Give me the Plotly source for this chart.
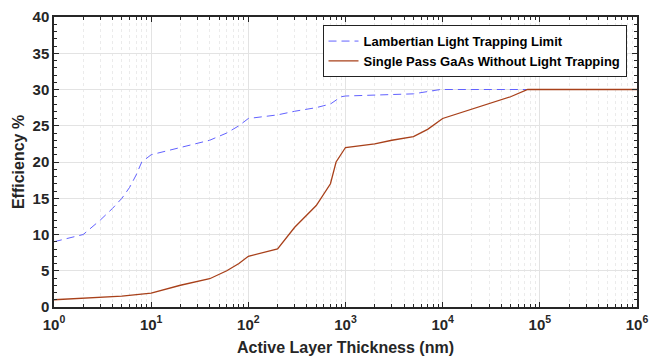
import plotly.graph_objects as go

# Data
lamb_x = [1, 2, 3, 4, 5, 6, 7, 8, 10, 20, 40, 60, 80, 100, 200, 300, 500, 700, 900,
          1000, 2000, 5000, 9500, 1e5, 1e6]
lamb_y = [9, 10, 12, 13.6, 15, 16.5, 18.2, 20, 21, 22, 23, 24, 25, 26, 26.5, 27, 27.5, 28, 29,
          29.1, 29.2, 29.4, 30, 30, 30]

gaas_x = [1, 2, 5, 10, 20, 40, 60, 80, 100, 200, 300, 500, 700, 800, 1000, 2000, 3000, 5000,
          7000, 10000, 50000, 75000, 1e5, 1e6]
gaas_y = [1, 1.2, 1.5, 1.9, 3, 3.9, 5, 6, 7, 8, 11, 14, 17, 20, 22, 22.5, 23, 23.5,
          24.5, 26, 29, 30, 30, 30]

x_tickvals = [1, 10, 100, 1000, 1e4, 1e5, 1e6]
x_ticktext = ["10<sup>0</sup>", "10<sup>1</sup>", "10<sup>2</sup>", "10<sup>3</sup>",
              "10<sup>4</sup>", "10<sup>5</sup>", "10<sup>6</sup>"]

font_family = "Arial, Liberation Sans, sans-serif"
text_col = "#262626"

fig = go.Figure()
fig.add_trace(go.Scatter(
    x=lamb_x, y=lamb_y, mode="lines", name="Lambertian Light Trapping Limit",
    line=dict(color="#6262FF", width=1, dash="8px,5px")))
fig.add_trace(go.Scatter(
    x=gaas_x, y=gaas_y, mode="lines", name="Single Pass GaAs Without Light Trapping",
    line=dict(color="#A8401A", width=1.3)))

fig.update_layout(
    width=650, height=358,
    margin=dict(l=54, r=13, t=17, b=51),
    paper_bgcolor="white", plot_bgcolor="white",
    font=dict(family=font_family, color=text_col),
    showlegend=True,
    legend=dict(x=0.982, y=0.972, xanchor="right", yanchor="top",
                bgcolor="white", bordercolor="#222222", borderwidth=1,
                font=dict(size=13, weight="bold", color="black"),
                tracegroupgap=0, itemwidth=30),
)

fig.update_xaxes(
    type="log", range=[0, 6], automargin=False,
    tickvals=x_tickvals, ticktext=x_ticktext,
    tickfont=dict(size=15, weight="bold", color=text_col),
    ticks="inside", ticklen=5, tickcolor="#262626",
    ticklabelstandoff=3,
    showline=True, linecolor="#262626", linewidth=1.5, mirror="allticks",
    showgrid=True, gridcolor="#E3E3E3", gridwidth=1,
    zeroline=False,
    minor=dict(dtick="D1", ticks="inside", ticklen=3, tickcolor="#262626",
               showgrid=True, gridcolor="#EBEBEB", griddash="dot", gridwidth=0.8),
    title=dict(text="Active Layer Thickness (nm)", standoff=10,
               font=dict(size=16, weight="bold", color=text_col)),
)

fig.update_yaxes(
    range=[0, 40], dtick=5, automargin=False,
    tickfont=dict(size=15, weight="bold", color=text_col),
    ticks="inside", ticklen=5, tickcolor="#262626",
    showline=True, linecolor="#262626", linewidth=1.5, mirror="allticks",
    showgrid=True, gridcolor="#E3E3E3", gridwidth=1,
    zeroline=False,
    minor=dict(ticks="inside", ticklen=3, dtick=1, tickcolor="#262626", showgrid=False),
    title=dict(text="Efficiency %", standoff=4,
               font=dict(size=16, weight="bold", color=text_col)),
)

fig.write_html("out.html")
